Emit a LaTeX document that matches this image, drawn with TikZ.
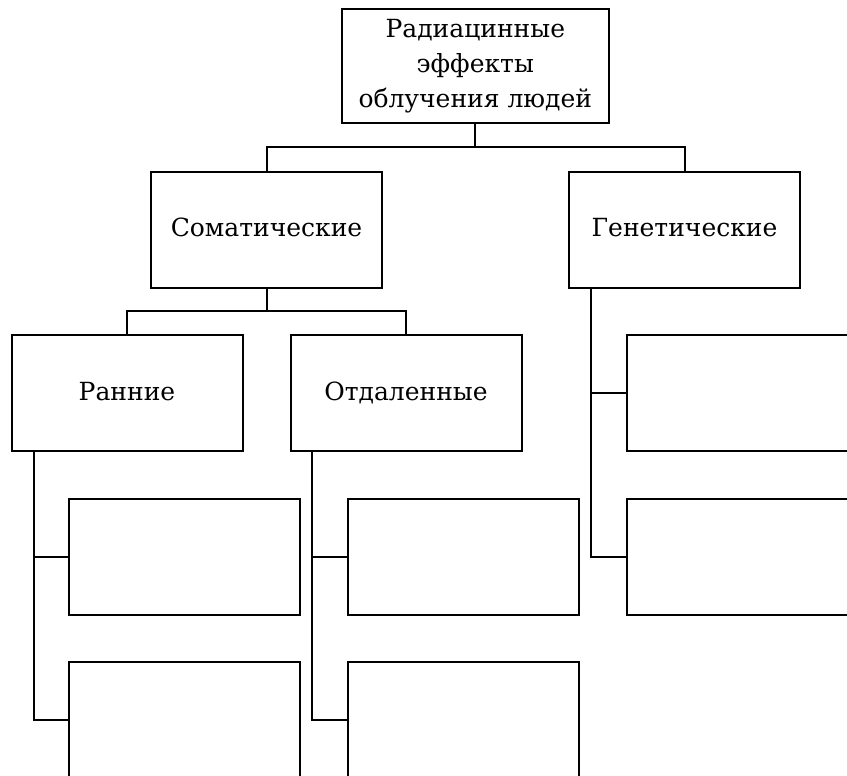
\documentclass[tikz,border=0pt]{standalone}
\usepackage{fontspec}
\setmainfont{DejaVu Serif}
\begin{document}
\begin{tikzpicture}[x=1pt,y=-1pt,
  box/.style={draw,line width=2pt,rectangle,inner sep=0pt,minimum width=231pt,minimum height=116pt,font=\fontsize{25}{35}\selectfont,align=center},
  conn/.style={line width=2pt}]
\clip (0,0) rectangle (847,776);
\fill[white] (0,0) rectangle (847,776);
\node[box,minimum width=267pt,minimum height=114pt] (top) at (475.3,66) {Радиацинные\\эффекты\\облучения людей};
\node[box] (som) at (266.5,229.5) {\strut Соматические};
\node[box] (gen) at (684.5,229.5) {\strut Генетические};
\node[box] (ran) at (127,393) {\strut Ранние};
\node[box] (otd) at (406,393) {\strut Отдаленные};
\node[box] (r1) at (184.8,557) {};
\node[box] (r2) at (184.8,720) {};
\node[box] (o1) at (463.4,557) {};
\node[box] (o2) at (463.4,720) {};
\node[box] (g1) at (742.5,393) {};
\node[box] (g2) at (742.5,557) {};
\coordinate (b1) at (475.3,147);
\coordinate (b2) at (266.5,311);
\draw[conn] (top.south) -- (b1) -| (som.north);
\draw[conn] (b1) -| (gen.north);
\draw[conn] (som.south) -- (b2) -| (ran.north);
\draw[conn] (b2) -| (otd.north);
\draw[conn] ([xshift=23.3pt]ran.south west) |- (r1.west);
\draw[conn] ([xshift=23.3pt]ran.south west) |- (r2.west);
\draw[conn] ([xshift=22.8pt]otd.south west) |- (o1.west);
\draw[conn] ([xshift=22.8pt]otd.south west) |- (o2.west);
\draw[conn] ([xshift=23.3pt]gen.south west) |- (g1.west);
\draw[conn] ([xshift=23.3pt]gen.south west) |- (g2.west);
\end{tikzpicture}
\end{document}
